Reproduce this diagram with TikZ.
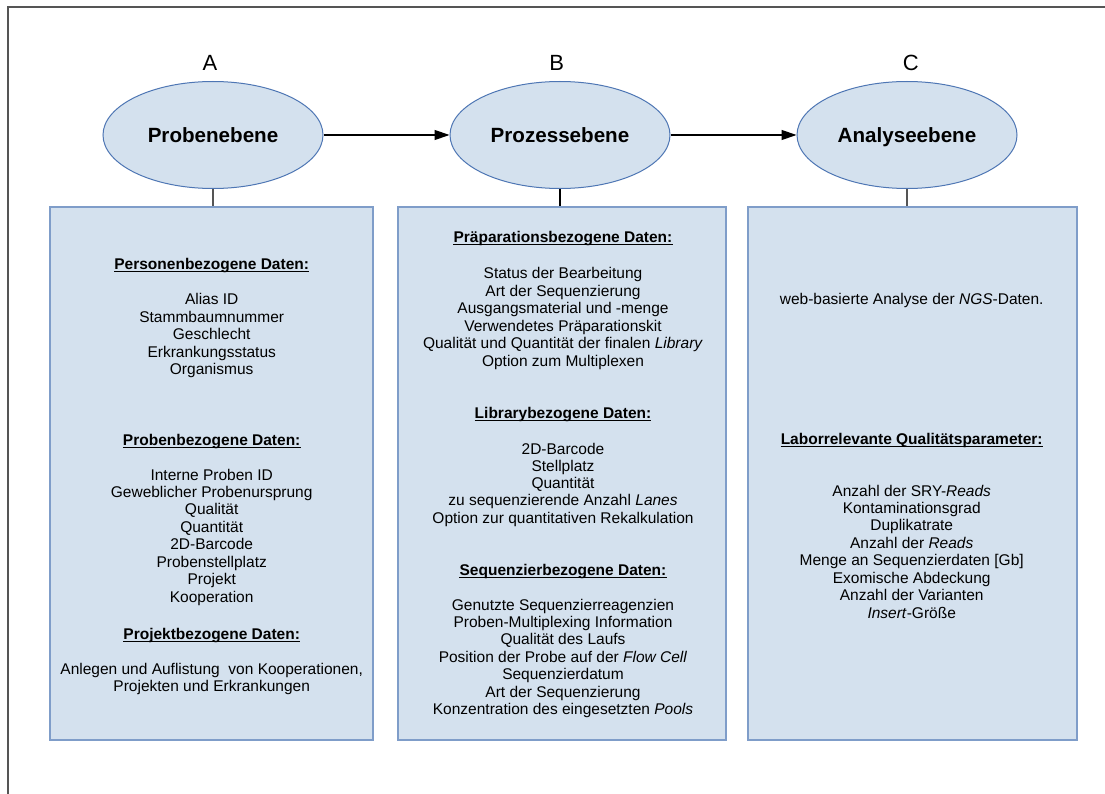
\documentclass[tikz,border=0pt]{standalone}
\usepackage{fontspec}
\setmainfont{Liberation Sans}
\usetikzlibrary{arrows.meta,calc,shapes.geometric}
\definecolor{boxfill}{HTML}{D4E1EE}
\definecolor{boxline}{HTML}{7F9DC9}
\definecolor{ellline}{HTML}{4E76B4}
\definecolor{framegray}{HTML}{555555}
\begin{document}
\begin{tikzpicture}[x=1pt,y=-1pt,
  lvl/.style={ellipse, draw=ellline, fill=boxfill, line width=1pt, minimum width=220pt, minimum height=107pt, inner sep=0pt, font=\fontsize{20.6}{24}\selectfont\bfseries, text height=14.8pt, text depth=0pt},
  panel/.style={draw=boxline, fill=boxfill, line width=1.2pt, minimum width=#1, minimum height=533pt, inner sep=0pt},
  letter/.style={anchor=base, font=\fontsize{22}{26}\selectfont, inner sep=0pt},
  txt/.style={anchor=base, font=\fontsize{15.5}{18}\selectfont, inner sep=0pt},
  head/.style={anchor=base, font=\fontsize{15.5}{18}\selectfont\bfseries, inner sep=0pt},
  uline/.style={line width=1.1pt},
  flow/.style={-{Triangle[length=15pt,width=10pt]}, line width=1.2pt},
  stem/.style={line width=1.4pt}
]
\useasboundingbox (0,0) rectangle (1105,794);
\fill[white] (0,0) rectangle (1105,794);
\draw[framegray, line width=2pt] (7.5,794) -- (7.5,6.7) -- (1105,6.7);

% level letters
\node[letter] (la) at (210,71) {A};
\node[letter] (lb) at (556.7,70.5) {B};
\node[letter] (lc) at (910.7,70.5) {C};

% panels
\node[panel=323pt] (pa) at (211.5,473.5) {};
\node[panel=328pt] (pb) at (562,473.5) {};
\node[panel=329pt] (pc) at (912.5,473.5) {};

% ellipses
\node[lvl] (ea) at (213,135) {Probenebene};
\node[lvl] (eb) at (560,135) {Prozessebene};
\node[lvl] (ec) at (907,135) {Analyseebene};

% connectors
\draw[flow] (ea.east) -- (eb.west);
\draw[flow] (eb.east) -- (ec.west);
\draw[stem, framegray] (ea.south) -- (ea.south |- pa.north);
\draw[stem, black] (eb.south) -- (eb.south |- pb.north);
\draw[stem, framegray] (ec.south) -- (ec.south |- pc.north);

% panel A
\node[head] (hA1) at (211.7,269.5) {Personenbezogene Daten:};
\foreach \x [count=\i from 0] in {Alias ID, Stammbaumnummer, Geschlecht, Erkrankungsstatus, Organismus}
  \node[txt] (ta\i) at (211.7,{305+17.45*\i}) {\x};
\node[head] (hA2) at (211.7,445.5) {Probenbezogene Daten:};
\foreach \x [count=\i from 0] in {Interne Proben ID, Geweblicher Probenursprung, Qualität, Quantität, 2D-Barcode, Probenstellplatz, Projekt, Kooperation}
  \node[txt] (tb\i) at (211.7,{480+17.45*\i}) {\x};
\node[head] (hA3) at (211.7,639) {Projektbezogene Daten:};
\node[txt] (tc0) at (211.7,674.5) {Anlegen und Auflistung\ \ von Kooperationen,};
\node[txt] (tc1) at (211.7,691.5) {Projekten und Erkrankungen};

% panel B
\node[head] (hB1) at (563,242.5) {Präparationsbezogene Daten:};
\foreach \x [count=\i from 0] in {Status der Bearbeitung, Art der Sequenzierung, Ausgangsmaterial und -menge, Verwendetes Präparationskit, {Qualität und Quantität der finalen \textit{Library}}, Option zum Multiplexen}
  \node[txt] (td\i) at (563,{279+17.4*\i}) {\x};
\node[head] (hB2) at (563,418) {Librarybezogene Daten:};
\foreach \x [count=\i from 0] in {2D-Barcode, Stellplatz, Quantität, {zu sequenzierende Anzahl \textit{Lanes}}, Option zur quantitativen Rekalkulation}
  \node[txt] (te\i) at (563,{454+17.3*\i}) {\x};
\node[head] (hB3) at (563,575) {Sequenzierbezogene Daten:};
\foreach \x [count=\i from 0] in {Genutzte Sequenzierreagenzien, Proben-Multiplexing Information, Qualität des Laufs, {Position der Probe auf der \textit{Flow Cell}}, Sequenzierdatum, Art der Sequenzierung, {Konzentration des eingesetzten \textit{Pools}}}
  \node[txt] (tf\i) at (563,{610+17.45*\i}) {\x};

% panel C
\node[txt] (tg0) at (911.7,305) {web-basierte Analyse der \textit{NGS}-Daten.};
\node[head] (hC1) at (911.7,444.3) {Laborrelevante Qualitätsparameter:};
\foreach \x [count=\i from 0] in {{Anzahl der SRY-\textit{Reads}}, Kontaminationsgrad, Duplikatrate, {Anzahl der \textit{Reads}}, {Menge an Sequenzierdaten [Gb]}, Exomische Abdeckung, Anzahl der Varianten, {\textit{Insert}-Größe}}
  \node[txt] (th\i) at (911.7,{496+17.45*\i}) {\x};

% underlines of headings
\foreach \h in {hA1,hA2,hA3,hB1,hB2,hB3,hC1}
  \draw[uline] ($(\h.base west)+(0,2.2)$) -- ($(\h.base east)+(0,2.2)$);
\end{tikzpicture}
\end{document}
